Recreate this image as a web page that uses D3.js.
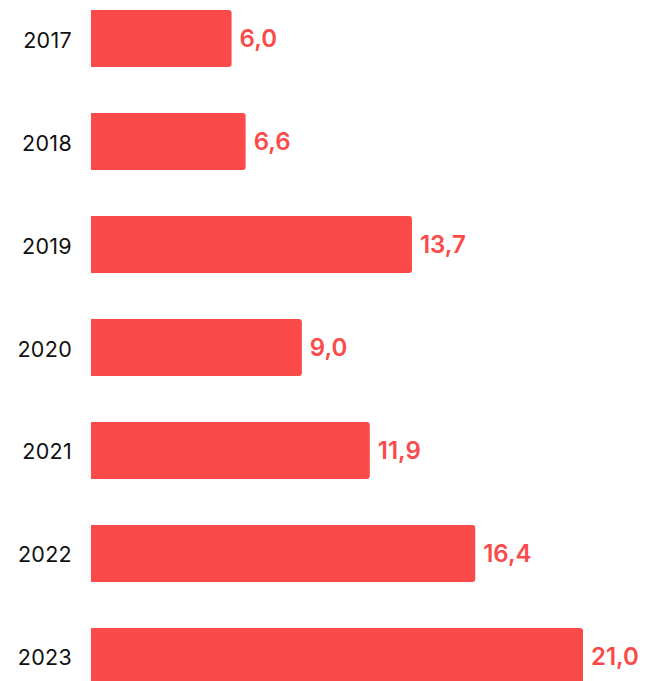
<!DOCTYPE html>
<html><head><meta charset="utf-8">
<script src="https://cdn.jsdelivr.net/npm/d3@7"></script>
<style>html,body{margin:0;padding:0;background:#fff;overflow:hidden}</style>
</head><body>
<svg id="c" width="652" height="681"></svg>
<script>
const years = ["2017","2018","2019","2020","2021","2022","2023"];
const values = [6.0, 6.6, 13.7, 9.0, 11.9, 16.4, 21.0];

const svg = d3.select("#c");
const x = d3.scaleLinear().domain([0, 21]).range([91, 583]);
const y = d3.scaleBand().domain(years).range([10, 685]).paddingInner(0.4466).paddingOuter(0);
const color = "#FA4A4A";
const r = 3;
const fmt = v => d3.format(".1f")(v).replace(".", ",");

function barPath(x0, x1, y0, h){
  return `M${x0},${y0} H${x1-r} Q${x1},${y0} ${x1},${y0+r} V${y0+h-r} Q${x1},${y0+h} ${x1-r},${y0+h} H${x0} Z`;
}
const data = years.map((yr,i)=>({yr, v: values[i]}));

svg.selectAll("path.bar").data(data).join("path").attr("class","bar")
  .attr("d", d => barPath(x(0), x(d.v), y(d.yr), y.bandwidth()))
  .attr("fill", color);

svg.selectAll("text.yr").data(data).join("text").attr("class","yr")
  .attr("x", 72).attr("y", d => y(d.yr) + y.bandwidth()/2 + 1)
  .attr("text-anchor","end").attr("dominant-baseline","central")
  .attr("font-family","Inter, sans-serif").attr("font-size", 21.5).attr("fill","#111")
  .attr("letter-spacing", 0.3)
  .text(d => d.yr);

svg.selectAll("text.val").data(data).join("text").attr("class","val")
  .attr("x", d => x(d.v) + 8).attr("y", d => y(d.yr) + y.bandwidth()/2)
  .attr("dominant-baseline","central")
  .attr("font-family","Inter, sans-serif").attr("font-size", 24).attr("font-weight", 600).attr("fill", color)
  .text(d => fmt(d.v));
</script>
</body></html>
